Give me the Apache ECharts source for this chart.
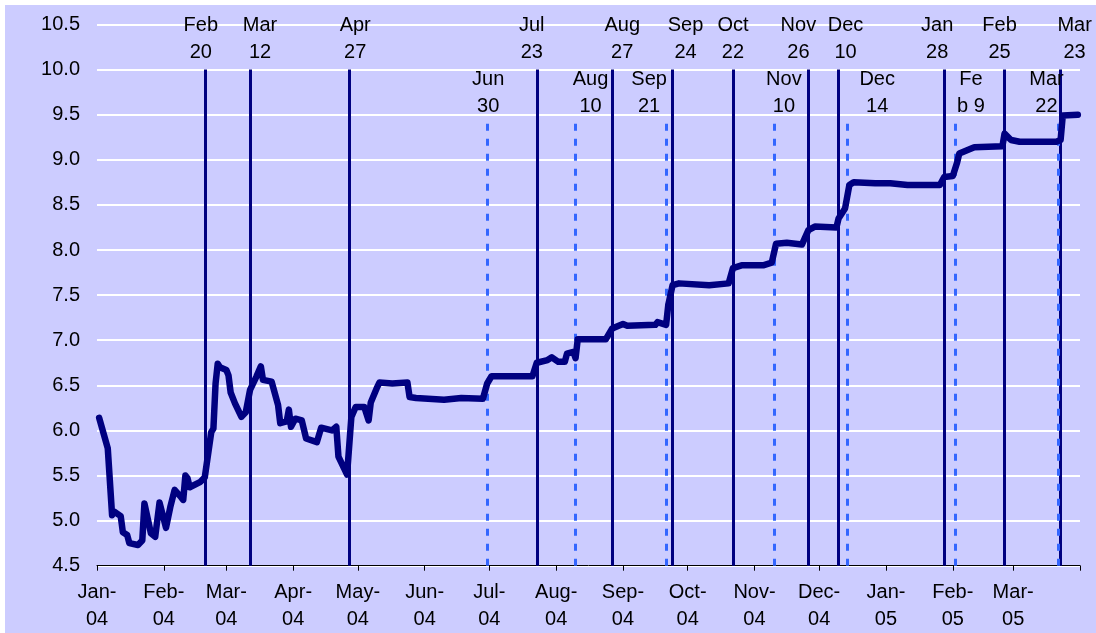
<!DOCTYPE html>
<html>
<head>
<meta charset="utf-8">
<script src="https://cdn.jsdelivr.net/npm/echarts@6/dist/echarts.min.js"></script>
<style>
  html, body { margin: 0; padding: 0; background: #fff; }
  #chart { position: absolute; left: 5px; top: 5px; width: 1091px; height: 628px; background: #ccccff; }
</style>
</head>
<body>
<div id="chart"></div>
<script>
const dates = [
  '2004-01-02', '2004-01-06', '2004-01-08', '2004-01-09', '2004-01-12', '2004-01-13', '2004-01-15', '2004-01-16',
  '2004-01-20', '2004-01-22', '2004-01-23', '2004-01-26', '2004-01-28', '2004-01-30',
  '2004-02-02', '2004-02-04', '2004-02-06', '2004-02-09', '2004-02-10', '2004-02-11', '2004-02-12', '2004-02-13',
  '2004-02-18', '2004-02-20', '2004-02-23', '2004-02-24', '2004-02-25', '2004-02-26', '2004-02-27',
  '2004-03-01', '2004-03-02', '2004-03-03', '2004-03-05', '2004-03-08', '2004-03-10', '2004-03-12', '2004-03-15',
  '2004-03-17', '2004-03-18', '2004-03-22', '2004-03-25', '2004-03-26', '2004-03-29', '2004-03-30', '2004-03-31',
  '2004-04-02', '2004-04-05', '2004-04-07', '2004-04-12', '2004-04-14', '2004-04-19', '2004-04-21', '2004-04-22',
  '2004-04-26', '2004-04-28', '2004-04-30',
  '2004-05-04', '2004-05-06', '2004-05-07', '2004-05-10', '2004-05-11', '2004-05-17', '2004-05-24', '2004-05-25', '2004-05-28',
  '2004-06-10', '2004-06-18', '2004-06-28', '2004-06-30',
  '2004-07-02', '2004-07-15', '2004-07-21', '2004-07-23', '2004-07-28', '2004-07-30',
  '2004-08-02', '2004-08-05', '2004-08-06', '2004-08-09', '2004-08-10', '2004-08-11', '2004-08-24', '2004-08-27', '2004-08-30',
  '2004-09-01', '2004-09-03', '2004-09-16', '2004-09-17', '2004-09-21', '2004-09-22', '2004-09-24', '2004-09-27',
  '2004-10-11', '2004-10-20', '2004-10-22', '2004-10-26',
  '2004-11-05', '2004-11-09', '2004-11-11', '2004-11-16', '2004-11-23', '2004-11-26', '2004-11-29',
  '2004-12-09', '2004-12-10', '2004-12-13', '2004-12-15', '2004-12-17', '2004-12-27',
  '2005-01-03', '2005-01-11', '2005-01-26', '2005-01-28',
  '2005-02-01', '2005-02-03', '2005-02-04', '2005-02-09', '2005-02-11', '2005-02-24', '2005-02-25', '2005-02-28',
  '2005-03-04', '2005-03-21', '2005-03-23', '2005-03-24', '2005-03-31'
];
const rates = [
  6.14, 5.80, 5.06, 5.10, 5.05, 4.87, 4.84, 4.75,
  4.73, 4.78, 5.19, 4.86, 4.82, 5.20,
  4.92, 5.15, 5.34, 5.26, 5.23, 5.50, 5.47, 5.37,
  5.43, 5.48, 5.98, 6.02, 6.52, 6.74, 6.70,
  6.67, 6.61, 6.42, 6.30, 6.15, 6.20, 6.45, 6.60,
  6.71, 6.56, 6.54, 6.28, 6.08, 6.10, 6.23, 6.04,
  6.13, 6.11, 5.91, 5.87, 6.03, 6.00, 6.04, 5.71,
  5.51, 6.15, 6.26,
  6.26, 6.11, 6.31, 6.48, 6.53, 6.52, 6.53, 6.37, 6.36,
  6.34, 6.36, 6.35, 6.52,
  6.60, 6.60, 6.60, 6.75, 6.78, 6.81,
  6.76, 6.76, 6.85, 6.87, 6.80, 7.01, 7.01, 7.13, 7.16,
  7.18, 7.16, 7.17, 7.20, 7.17, 7.39, 7.61, 7.63,
  7.61, 7.63, 7.80, 7.83,
  7.83, 7.86, 8.07, 8.08, 8.06, 8.22, 8.26,
  8.25, 8.35, 8.46, 8.72, 8.75, 8.74,
  8.74, 8.72, 8.72, 8.81,
  8.82, 8.97, 9.07, 9.12, 9.14, 9.15, 9.29, 9.22,
  9.20, 9.20, 9.22, 9.49, 9.50
];

// solid event lines
const solidDates = ['2004-02-20', '2004-03-12', '2004-04-27', '2004-07-23', '2004-08-27', '2004-09-24',
  '2004-10-22', '2004-11-26', '2004-12-10', '2005-01-28', '2005-02-25', '2005-03-23'];
const solidLabels = ['Feb\n20', 'Mar\n12', 'Apr\n27', 'Jul\n23', 'Aug\n27', 'Sep\n24',
  'Oct\n22', 'Nov\n26', 'Dec\n10', 'Jan\n28', 'Feb\n25', 'Mar\n23'];
// dashed event lines
const dashedDates = ['2004-06-30', '2004-08-10', '2004-09-21', '2004-11-10', '2004-12-14', '2005-02-02', '2005-03-22'];
const dashedLabels = ['Jun\n30', 'Aug\n10', 'Sep\n21', 'Nov\n10', 'Dec\n14', 'Fe\nb 9', 'Mar\n22'];

// month ticks on the x axis
const tickMonths = ['2004-01-01', '2004-02-01', '2004-03-01', '2004-04-01', '2004-05-01', '2004-06-01',
  '2004-07-01', '2004-08-01', '2004-09-01', '2004-10-01', '2004-11-01', '2004-12-01',
  '2005-01-01', '2005-02-01', '2005-03-01', '2005-04-01'];
const labelMonths = tickMonths.slice(0, 15);
const monthNames = ['Jan', 'Feb', 'Mar', 'Apr', 'May', 'Jun', 'Jul', 'Aug', 'Sep', 'Oct', 'Nov', 'Dec'];

// label nudges (px) so the text boxes sit as in the original
const solidShift = [-4, 10, 6, -5, 10, 13, 0, -10, 7, -7, -5, 14];
const dashedShift = [1, 15, -17, 10, 30, 16, -12];

const FONT = 'Liberation Sans, Arial, sans-serif';
const t = s => +new Date(s + 'T00:00:00');

function shiftPad (dx) {
  return dx >= 0 ? [0, 0, 0, 2 * dx] : [0, -2 * dx, 0, 0];
}

function eventLines (list, texts, shifts, top) {
  return list.map((d, i) => [
    { coord: [t(d), 4.5], label: { formatter: texts[i], padding: shiftPad(shifts[i]) } },
    { coord: [t(d), top] }
  ]);
}

const chart = echarts.init(document.getElementById('chart'));
chart.setOption({
  animation: false,
  backgroundColor: '#ccccff',
  textStyle: { fontFamily: FONT },
  grid: { left: 92, right: 16, top: 19.5, bottom: 67.3, containLabel: false, outerBoundsMode: 'none' },
  xAxis: {
    type: 'value',
    min: t('2004-01-01'),
    max: t('2005-04-01'),
    axisLine: { lineStyle: { color: '#000', width: 1 } },
    axisTick: { show: true, length: 5, lineStyle: { color: '#000' }, customValues: tickMonths.map(t) },
    axisLabel: {
      customValues: labelMonths.map(t),
      color: '#000',
      fontSize: 20,
      fontFamily: FONT,
      lineHeight: 27,
      margin: 13,
      formatter: function (v) {
        const d = new Date(v);
        return monthNames[d.getMonth()] + '-\n' + String(d.getFullYear()).slice(2);
      }
    },
    splitLine: { show: false }
  },
  yAxis: {
    type: 'value',
    min: 4.5,
    max: 10.5,
    interval: 0.5,
    axisLine: { show: false },
    axisTick: { show: false },
    axisLabel: {
      color: '#000',
      fontSize: 20,
      fontFamily: FONT,
      margin: 17,
      formatter: v => v.toFixed(1)
    },
    splitLine: { lineStyle: { color: '#ffffff', width: 2 } }
  },
  series: [
    {
      name: 'solid events',
      type: 'line',
      data: [],
      markLine: {
        silent: true,
        symbol: ['none', 'none'],
        z: 5,
        lineStyle: { color: '#000080', width: 3, type: 'solid' },
        label: {
          position: 'end',
          distance: 4,
          color: '#000',
          fontSize: 20,
          fontFamily: FONT,
          lineHeight: 27,
          align: 'center'
        },
        emphasis: { disabled: true },
        data: eventLines(solidDates, solidLabels, solidShift, 10.0)
      }
    },
    {
      name: 'dashed events',
      type: 'line',
      data: [],
      markLine: {
        silent: true,
        symbol: ['none', 'none'],
        z: 6,
        lineStyle: { color: '#3366ff', width: 3, type: [7, 8] },
        label: {
          position: 'end',
          distance: 3,
          color: '#000',
          fontSize: 20,
          fontFamily: FONT,
          lineHeight: 27,
          align: 'center'
        },
        emphasis: { disabled: true },
        data: eventLines(dashedDates, dashedLabels, dashedShift, 9.41)
      }
    },
    {
      name: 'rate',
      type: 'line',
      z: 10,
      showSymbol: false,
      symbol: 'none',
      lineStyle: { color: '#000080', width: 6.5, join: 'round', cap: 'round' },
      data: dates.map((d, i) => [t(d), rates[i]])
    }
  ]
});
window.addEventListener('resize', () => { chart.resize(); });
</script>
</body>
</html>
